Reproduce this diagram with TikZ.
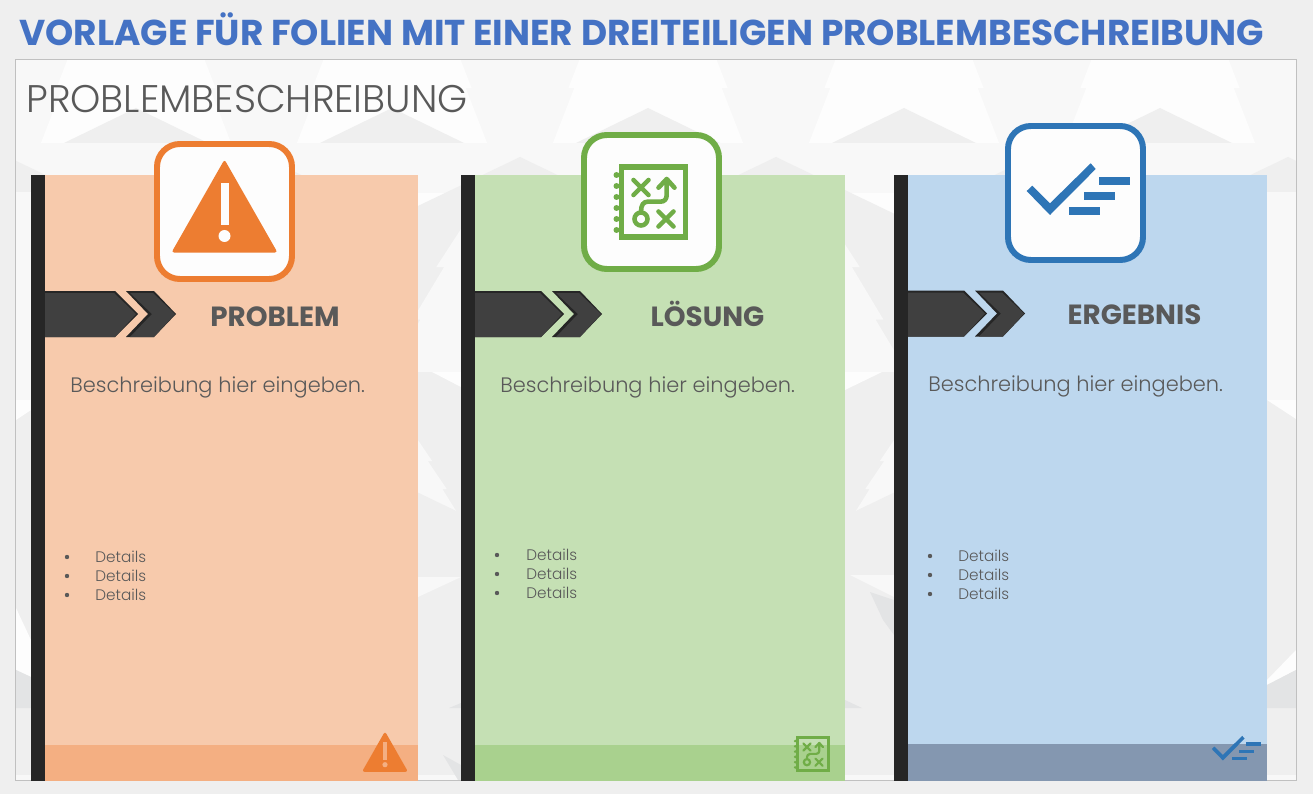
\documentclass[tikz,border=0pt]{standalone}
\usepackage{fontspec}
\setmainfont{Poppins}
\newfontfamily\thinfont{Poppins Light}
\usetikzlibrary{calc}
\definecolor{pagegrey}{HTML}{EFEFEF}
\definecolor{framegrey}{HTML}{C0C0C0}
\definecolor{textgrey}{HTML}{595959}
\definecolor{barblack}{HTML}{262626}
\definecolor{chevgrey}{HTML}{404040}
\definecolor{titleblue}{HTML}{4472C4}
\definecolor{probcol}{HTML}{ED7D31}
\definecolor{probcard}{HTML}{F7CAAC}
\definecolor{probfoot}{HTML}{F4AF82}
\definecolor{loescol}{HTML}{70AD47}
\definecolor{loescard}{HTML}{C5E0B4}
\definecolor{loesfoot}{HTML}{A9D18E}
\definecolor{ergcol}{HTML}{2E75B6}
\definecolor{ergcard}{HTML}{BDD7EE}
\definecolor{ergfoot}{HTML}{8497B0}
\definecolor{boxwhite}{HTML}{FDFDFD}
\definecolor{firlight}{HTML}{F8F8F8}
\definecolor{firwhite}{HTML}{FDFDFD}
\definecolor{hilldark}{HTML}{E3E4E5}
\tikzset{
    headtext/.style={font=\bfseries\fontsize{15.8}{18}\selectfont, text=textgrey, inner sep=0pt, anchor=base},
    bodytext/.style={font=\thinfont\fontsize{11.9}{14}\selectfont, text=textgrey, inner sep=0pt, anchor=base west},
    detailtext/.style={font=\thinfont\fontsize{8.7}{10}\selectfont, text=textgrey, inner sep=0pt, anchor=west},
    iconbox/.style={draw=#1, line width=3.4pt, fill=boxwhite, rounded corners=13pt},
    pics/fir/.style={code={
        \fill [#1] (0,0) -- (12,20) -- (9,20) -- (22,40) -- (19,40) -- (32,60) -- (29,60) -- (41,80) -- (38,80) -- (50,100)
            -- (-50,100) -- (-38,80) -- (-41,80) -- (-29,60) -- (-32,60) -- (-19,40) -- (-22,40) -- (-9,20) -- (-12,20) -- cycle;
    }},
    pics/chevrons/.style={code={
        \fill [barblack] (-131,-23) -- (-61,-23) -- (-38,0) -- (-61,23) -- (-131,23) -- cycle;
        \fill [chevgrey] (-131,-21) -- (-62,-21) -- (-40,0) -- (-61,23) -- (-131,23) -- cycle;
        \fill [barblack] (-50,-23) -- (-22,-23) -- (0,0) -- (-22,23) -- (-50,23) -- (-28,0) -- cycle;
        \fill [chevgrey] (-46,-21) -- (-23,-21) -- (-1,0) -- (-22,23) -- (-46,23) -- (-24,0) -- cycle;
    }},
    pics/warnicon/.style={code={
        \fill [probcol, rounded corners=1.5pt] (0,-52) -- (53,41) -- (-53,41) -- cycle;
        \fill [#1] (-4,-28) rectangle (4,14);
        \fill [#1] (0,24.5) circle (6);
    }},
    pics/mapicon/.style={code={
        \draw [loescol, line width=#1*3.4pt] (-30,-35) rectangle (34,35);
        \foreach \dy in {-27,-16,-5,6,17,28} {
            \fill [loescol] (-35,\dy) circle (3);
        }
        \draw [loescol, line width=#1*2.6pt, line cap=round, line join=round]
            (-18,-22) -- (-3,-7) (-3,-22) -- (-18,-7)
            (7,9.5) -- (22,24.5) (22,9.5) -- (7,24.5)
            (-10.5,9.7) .. controls (-10.5,3) and (-8,-.3) .. (-4,-.3) -- (9,-.3)
            .. controls (13,-.3) and (15.2,-3) .. (15.2,-7) -- (15.2,-22)
            (7,-14.3) -- (15.2,-23) -- (23,-14.3);
        \draw [loescol, line width=#1*2.6pt] (-10.5,17) circle (6.5);
    }},
    pics/checkicon/.style={code={
        \fill [ergcol] (-48.8,-2) -- (-43.2,-7.3) -- (-25.5,10.3) -- (15.2,-29.7) -- (20.2,-24) -- (-25.5,22) -- cycle;
        \fill [ergcol] (23.5,-16) rectangle (54.5,-8);
        \fill [ergcol] (8.2,-1) rectangle (39.5,7.3);
        \fill [ergcol] (-6.8,14) rectangle (24.5,22);
    }},
}
\begin{document}
\begin{tikzpicture}[x=0.02cm, y=-0.02cm]
        \useasboundingbox (0,0) rectangle (1313,794);
        \fill [pagegrey] (0,0) rectangle (1313,794);

        \begin{scope}
            \clip (16,60) rectangle (1296,780);
            \fill [firlight] (16,60) rectangle (1296,193);
            \foreach \cx in {136,392,648,904,1160} {
                \pic at (\cx,-152) [xscale=1.94, yscale=3] {fir=firwhite};
                \fill [pagegrey] (\cx,108) -- (\cx+72,143) -- (\cx-72,143) -- cycle;
            }
            \fill [firlight] (16,143) rectangle (1296,193);
            \fill [firwhite] (16,193) rectangle (1296,372);
            \foreach \cx in {8,264,520,776,1032,1288} {
                \fill [pagegrey] (\cx,157) -- (\cx+448,372) -- (\cx-448,372) -- cycle;
            }
            \begin{scope}
                \clip (16,193) rectangle (1296,372);
                \foreach \cx in {8,264,520,776,1032,1288} {
                    \pic at (\cx,110) [scale=2.62] {fir=firlight};
                }
            \end{scope}
            \fill [pagegrey] (16,372) rectangle (1296,708);
            \foreach \cx in {144,400,656,912,1168} {
                \pic at (\cx,405) [xscale=1.46, yscale=1.4] {fir=firlight};
                \fill [pagegrey] (\cx,484) -- (\cx+200,580) -- (\cx-200,580) -- cycle;
            }
            \fill [firlight] (16,372) -- (31,372) -- (31,400) -- (16,400) -- cycle;
            \fill [firwhite] (16,400) -- (31,400) -- (31,410) -- (16,420) -- cycle;
            \fill [firwhite] (432,372) -- (461,372) -- (461,387) -- cycle;
            \fill [firwhite] (845,372) -- (882,372) -- (845,390) -- cycle;
            \fill [firlight] (1267,372) -- (1296,372) -- (1296,400) -- (1267,400) -- cycle;
            \fill [firwhite] (1267,400) -- (1296,400) -- (1296,419) -- cycle;

            \fill [firlight] (418,577) -- (461,577) -- (418,597) -- cycle;
            \fill [firlight] (850,575) -- (894,575) -- (894,597) -- cycle;
            \fill [firwhite] (16,608) -- (31,640) -- (31,677) -- (16,670) -- cycle;
            \fill [firwhite] (1267,680) -- (1296,650) -- (1296,670) -- (1267,685) -- cycle;

            \fill [hilldark] (16,670) -- (31,677) -- (31,708) -- (16,708) -- cycle;
            \fill [hilldark] (1267,685) -- (1296,670) -- (1296,708) -- (1267,708) -- cycle;
            \fill [hilldark] (449,708) -- (461,703) -- (461,708) -- cycle;
            \fill [hilldark] (870,592) -- (894,600) -- (894,635) -- (883,620) -- cycle;
            \fill [hilldark] (845,700) -- (862,708) -- (845,708) -- cycle;
            \fill [firlight] (16,775) rectangle (1296,780);
            \fill [hilldark] (443,755) -- (461,765) -- (461,780) -- (458,780) -- cycle;
        \end{scope}
        \draw [framegrey] (15.5,59.5) rectangle (1296.5,780.5);

        \fill [probcard] (45,175) rectangle (418,781);
        \fill [probfoot] (45,745) rectangle (418,781);
        \fill [loescard] (475,175) rectangle (845,781);
        \fill [loesfoot] (475,745) rectangle (845,781);
        \fill [ergcard] (908,175) rectangle (1267,781);
        \fill [ergfoot] (908,744) rectangle (1267,781);

        \pic at (176,314) {chevrons};
        \pic at (602,314) {chevrons};
        \pic at (1025,313.5) {chevrons};

        \fill [barblack] (31,175) rectangle (45,781);
        \fill [barblack] (461,175) rectangle (475,781);
        \fill [barblack] (894,175) rectangle (908,781);

        \draw [iconbox=probcol] (157,144) rectangle (292,279);
        \pic at (224.5,211.5) {warnicon=boxwhite};
        \draw [iconbox=loescol] (584,135) rectangle (719,269);
        \pic at (651.5,202) {mapicon=1};
        \draw [iconbox=ergcol] (1008,126) rectangle (1143,260);
        \pic at (1075.5,193) {checkicon};

        \pic at (385,754) [scale=0.435] {warnicon=probfoot};
        \pic at (812,754) [scale=0.48] {mapicon=0.48};
        \pic at (1235,750) [scale=0.475] {checkicon};

        \node (maintitle) [anchor=base west, inner sep=0pt, text=titleblue, font=\bfseries\fontsize{20.45}{24}\selectfont] at (19,46)
            {VORLAGE FÜR FOLIEN MIT EINER DREITEILIGEN PROBLEMBESCHREIBUNG};
        \node (paneltitle) [anchor=base west, inner sep=0pt, text=textgrey, font=\thinfont\fontsize{21.9}{24}\selectfont] at (26,113)
            {PROBLEMBESCHREIBUNG};

        \node (probhead) [headtext] at (275,326) {PROBLEM};
        \node (loeshead) [headtext] at (707.5,326) {LÖSUNG};
        \node (erghead) [headtext] at (1134.5,324) {ERGEBNIS};

        \node (probbody) [bodytext] at (70,392) {Beschreibung hier eingeben.};
        \node (loesbody) [bodytext] at (500,392) {Beschreibung hier eingeben.};
        \node (ergbody) [bodytext] at (928,391) {Beschreibung hier eingeben.};

        \foreach \name/\bx/\tx/\ty in {prob/67/95/557, loes/497/526/555, erg/930/958/556} {
            \foreach \row in {0,1,2} {
                \fill [textgrey] (\bx,\ty+19*\row) circle (2.2);
                \node (\name detail\row) [detailtext] at (\tx,\ty+19*\row) {Details};
            }
        }
\end{tikzpicture}
\end{document}
